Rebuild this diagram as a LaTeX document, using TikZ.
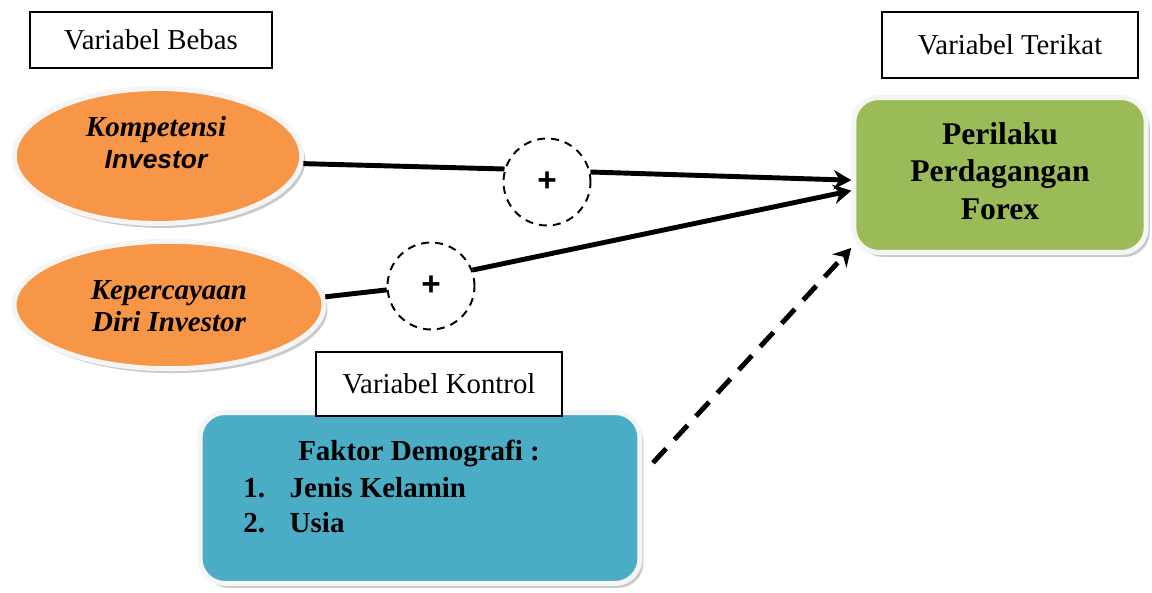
\documentclass[tikz,border=0pt]{standalone}
\usepackage{fontspec}
\setmainfont{Liberation Serif}
\setsansfont{Liberation Sans}
\usetikzlibrary{shapes.geometric,arrows.meta,shadows}

\definecolor{orangefill}{HTML}{F79646}
\definecolor{greenfill}{HTML}{9BBB59}
\definecolor{bluefill}{HTML}{4BACC6}

\tikzset{
  lblbox/.style={draw=black, line width=0.8pt, fill=white, inner sep=0pt,
    font=\fontsize{16.4}{18}\selectfont},
  varshade/.style={draw=gray!8, line width=0.1cm,
    drop shadow={shadow xshift=2pt, shadow yshift=-2.5pt, fill=gray!70, opacity=0.6}},
  varell/.style={varshade, ellipse, fill=orangefill, inner sep=0pt},
  vartext/.style={align=center, inner sep=0pt,
    font=\bfseries\itshape\fontsize{16.5}{18.2}\selectfont},
  varbox/.style={varshade, rounded corners=0.5cm, inner sep=0pt},
  modcirc/.style={circle, draw, dashed, dash pattern=on 4.5pt off 3.5pt,
    line width=1.1pt, minimum size=1.74cm, inner sep=0pt,
    font=\sffamily\bfseries\fontsize{19}{19}\selectfont},
  link/.style={line width=2.8pt, -{Stealth[length=10pt,width=11pt]}},
  plain/.style={line width=2.8pt}
}

\begin{document}
\begin{tikzpicture}[x=0.02cm, y=-0.02cm]
\useasboundingbox (0,0) rectangle (1152,592);

% independent variables
\node[varell, minimum width=5.75cm, minimum height=2.7cm] (ell1) at (158,156) {};
\node[vartext] (ell1txt) at (156,143)
  {Kompetensi\\{\sffamily\fontsize{15}{18.2}\selectfont Investor}};
\node[varell, minimum width=6.2cm, minimum height=2.55cm] (ell2) at (169,305) {};
\node[vartext] (ell2txt) at (169,306) {Kepercayaan\\Diri Investor};

% dependent variable
\node[varbox, fill=greenfill, minimum width=5.85cm, minimum height=3.1cm] (gbox) at (1000,175) {};
\node[align=center, inner sep=0pt, font=\bfseries\fontsize{18}{21.5}\selectfont] (gtxt)
  at (1000,171) {Perilaku\\Perdagangan\\Forex};

% control variable
\node[varbox, fill=bluefill, minimum width=8.8cm, minimum height=3.42cm] (bbox) at (420,498) {};
\node[font=\bfseries\fontsize{16.5}{19.8}\selectfont, inner sep=0pt] (btitle) at (419,453)
  {Faktor Demografi :};
\node[font=\bfseries\fontsize{16.5}{19.8}\selectfont, inner sep=0pt, anchor=north west,
  align=left] (blist) at (243,477)
  {1.\hspace{0.85em}Jenis Kelamin\\2.\hspace{0.85em}Usia};

% labels
\node[lblbox, minimum width=4.84cm, minimum height=1.12cm] (lbebas) at (151,40) {Variabel Bebas};
\node[lblbox, minimum width=5.12cm, minimum height=1.32cm] (lterikat) at (1010,45) {Variabel Terikat};
\node[lblbox, minimum width=4.92cm, minimum height=1.28cm] (lkontrol) at (439,384) {Variabel Kontrol};

% moderators
\node[modcirc] (plus1) at (547,182) {+};
\node[modcirc] (plus2) at (431,286) {+};

% connectors
\draw[plain] (ell1.-3) -- (plus1.163);
\draw[link] (plus1.13) -- (gbox.182);
\draw[plain] (ell2.3) -- (plus2.185);
\draw[link] (plus2.21) -- (gbox.186);
\draw[link, dash pattern=on 11pt off 7pt] ([xshift=6pt]bbox.9) -- ([shift={(0pt,4pt)}]gbox.south west);
\end{tikzpicture}
\end{document}
